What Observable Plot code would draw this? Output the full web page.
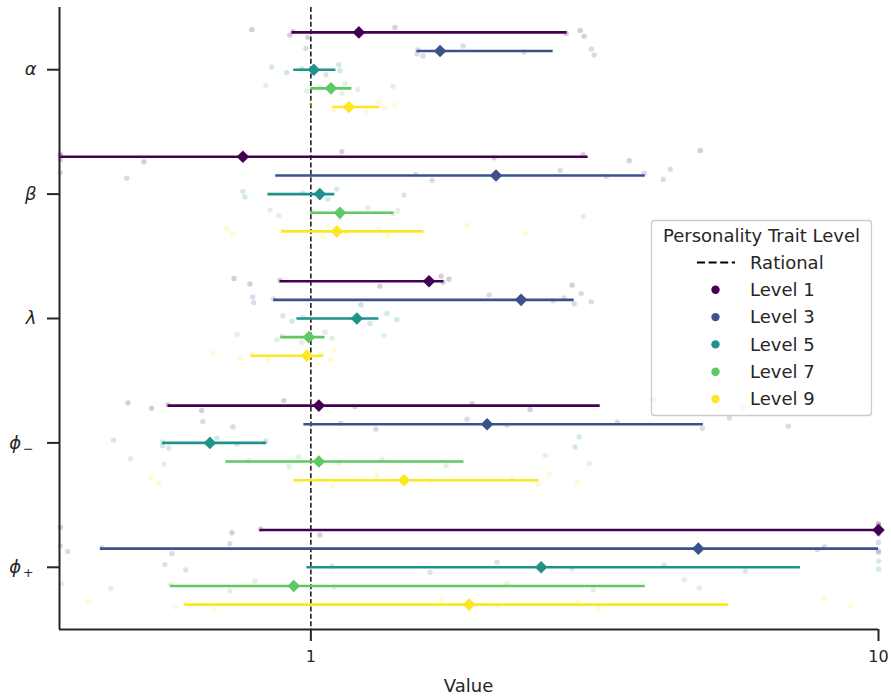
<!DOCTYPE html>
<html>
<head>
<meta charset="utf-8">
<script src="https://cdn.jsdelivr.net/npm/d3@7"></script>
<script src="https://cdn.jsdelivr.net/npm/@observablehq/plot@0.6"></script>
<style>
  html, body { margin: 0; padding: 0; background: #ffffff; }
  #chart { position: relative; width: 891px; height: 698px; }
  #chart svg { font-family: "DejaVu Sans", sans-serif; }
</style>
</head>
<body>
<div id="chart"></div>
<script>
// ---------------- data ----------------
const paramLabels = ["α", "β", "λ", "ϕ−", "ϕ+"];
const levelNames = ["Level 1", "Level 3", "Level 5", "Level 7", "Level 9"];
const levelColors = ["#440154", "#3b528b", "#21918c", "#5ec962", "#fde725"];
const rationalValue = 1;
const xTicks = [1, 10];

// rows: parameters (α, β, λ, ϕ−, ϕ+); columns: levels 1,3,5,7,9
const medianVals = [
  [1.215, 1.689, 1.012, 1.085, 1.167],
  [0.759, 2.119, 1.037, 1.125, 1.111],
  [1.615, 2.346, 1.205, 0.992, 0.984],
  [1.033, 2.044, 0.664, 1.033, 1.459],
  [10.0, 4.815, 2.545, 0.933, 1.900]
];
const lowVals = [
  [0.926, 1.538, 0.933, 1.000, 1.093],
  [0.300, 0.867, 0.840, 1.000, 0.889],
  [0.882, 0.860, 0.945, 0.885, 0.784],
  [0.560, 0.972, 0.548, 0.708, 0.933],
  [0.813, 0.426, 0.984, 0.566, 0.600]
];
const highVals = [
  [2.828, 2.672, 1.107, 1.181, 1.323],
  [3.080, 3.882, 1.102, 1.401, 1.582],
  [1.716, 2.910, 1.318, 1.059, 1.054],
  [3.234, 4.914, 0.836, 1.861, 2.524],
  [10.0, 10.0, 7.285, 3.882, 5.438]
];

// individual estimates (faint dots)
const alphaSamples = [
  [0.787, 0.918, 0.930, 0.988, 1.406, 2.817, 2.982, 3.031],
  [0.980, 1.538, 1.544, 1.576, 1.854, 2.375, 3.118, 3.156],
  [0.853, 0.907, 0.964, 1.063, 1.120, 1.125],
  [0.833, 0.984, 1.037, 1.134, 1.148, 1.210, 1.395],
  [1.000, 1.098, 1.167, 1.255, 1.318, 1.351, 1.406]
];
const betaSamples = [
  [0.362, 0.362, 0.362, 0.508, 1.134, 2.102, 3.018, 3.638, 4.855],
  [0.362, 0.474, 1.531, 1.635, 2.749, 3.314, 3.867, 4.176, 4.297],
  [0.759, 0.765, 0.968, 1.071, 1.111, 1.459],
  [0.847, 0.878, 1.008, 1.125, 1.260, 1.395, 1.423, 3.018],
  [0.711, 0.729, 0.889, 1.050, 1.076, 1.153, 1.318, 1.367, 1.884, 2.385]
];
const lambdaSamples = [
  [0.732, 0.781, 0.882, 1.323, 1.696, 1.709, 1.751, 2.886],
  [0.790, 0.793, 0.860, 1.225, 2.061, 2.672, 2.794, 2.910, 2.994, 3.118],
  [0.893, 0.926, 0.968, 1.271, 1.361, 1.418],
  [0.741, 0.871, 0.889, 0.964, 1.059, 1.089, 1.345],
  [0.672, 0.750, 0.787, 0.840, 0.984, 1.021, 1.037, 1.085, 1.098]
];
const phiMinusSamples = [
  [0.476, 0.524, 0.560, 0.642, 0.896, 1.196, 1.923, 2.434, 4.010, 5.780],
  [0.645, 0.729, 1.129, 1.302, 1.884, 2.216, 3.465, 4.894, 5.461, 6.939],
  [0.449, 0.548, 0.548, 0.562, 0.683, 0.741, 0.833, 2.922, 2.970],
  [0.481, 0.551, 0.778, 0.915, 0.952, 1.120, 1.334, 1.730, 2.586, 3.093],
  [0.522, 0.540, 1.029, 1.093, 1.307, 1.621, 2.262, 2.514, 2.629, 2.946]
];
const phiPlusSamples = [
  [0.362, 0.726, 0.816, 1.037, 10, 10, 10, 10, 10],
  [0.362, 0.373, 0.428, 0.569, 0.720, 7.806, 8.031, 10, 10, 10],
  [0.553, 0.602, 1.089, 1.621, 2.128, 2.886, 4.193, 5.827, 10, 10],
  [0.364, 0.444, 0.566, 0.720, 0.797, 1.098, 2.216, 3.144, 4.549, 4.835],
  [0.406, 0.578, 0.600, 0.674, 1.696, 2.128, 2.958, 3.208, 7.998, 8.926]
];
const allSamples = [alphaSamples, betaSamples, lambdaSamples, phiMinusSamples, phiPlusSamples];

// ---------------- layout helpers ----------------
const levelStep = 0.15;          // vertical spacing of levels within a parameter band
const jitter = [-0.022, 0.022, -0.008, 0.04, -0.04, 0.008, -0.016, 0.032, -0.05, 0.016, 0.0, 0.05];
const xMin = 0.3607, xMax = 10;

const summaryRows = [];
const pointRows = [];
paramLabels.forEach((p, i) => {
  levelNames.forEach((lv, j) => {
    const yPos = i + (j - 2) * levelStep;
    summaryRows.push({ y: yPos, level: j, med: medianVals[i][j], lo: lowVals[i][j], hi: highVals[i][j] });
    allSamples[i][j].forEach((v, k) => {
      pointRows.push({ y: yPos + jitter[k % jitter.length], level: j, x: v });
    });
  });
});

const diamond = {
  draw(context, size) {
    const h = Math.sqrt(size / Math.PI);
    context.moveTo(0, -h);
    context.lineTo(h, 0);
    context.lineTo(0, h);
    context.lineTo(-h, 0);
    context.closePath();
  }
};

const ink = "#262626";
const W = 891, H = 698;
const mL = 59, mR = 13, mT = 7, mB = 69;

const plot = Plot.plot({
  width: W,
  height: H,
  marginLeft: mL,
  marginRight: mR,
  marginTop: mT,
  marginBottom: mB,
  style: { fontFamily: "DejaVu Sans", background: "white", overflow: "visible" },
  x: { type: "log", domain: [xMin, xMax] },
  y: { domain: [-0.5, 4.5], reverse: true },
  color: { type: "ordinal", domain: [0, 1, 2, 3, 4], range: levelColors },
  marks: [
    Plot.ruleX([rationalValue], { stroke: "black", strokeWidth: 1.4, strokeDasharray: "5,2.4" }),
    Plot.dot(pointRows, { x: "x", y: "y", r: 2.7, fill: "level", fillOpacity: 0.2, stroke: "none" }),
    Plot.ruleY(summaryRows, { y: "y", x1: "lo", x2: "hi", stroke: "level", strokeWidth: 2.6, clip: true }),
    Plot.dot(summaryRows, { x: "med", y: "y", symbol: diamond, r: 6.3, fill: "level", stroke: "none" }),
    Plot.ruleX([xMin], { stroke: ink, strokeWidth: 2 }),
    Plot.ruleY([4.5], { stroke: ink, strokeWidth: 2 }),
    Plot.axisX({ ticks: xTicks, tickFormat: d => String(d), tickSize: 12, tickPadding: 9,
      stroke: ink, strokeWidth: 2, fill: ink, fontSize: 16, label: null }),
    Plot.axisY({ ticks: [0, 1, 2, 3, 4], tickFormat: i => paramLabels[i], tickSize: 12, tickPadding: 11,
      stroke: ink, strokeWidth: 2, fill: ink, fontSize: 18, label: null })
  ]
});

document.getElementById("chart").appendChild(plot);

const svg = d3.select(plot);

// subscripts on the ϕ labels, italic Greek
svg.selectAll('[aria-label="y-axis tick label"] text').each(function () {
  const t = d3.select(this);
  const s = this.textContent;
  t.text(null);
  if (s.length > 1) {
    t.attr("dx", -3);
    t.append("tspan").attr("font-style", "italic").text(s[0]);
    t.append("tspan").attr("font-size", "0.7em").attr("dy", "0.32em").attr("dx", "0.15em").text(s.slice(1));
  } else {
    t.append("tspan").attr("font-style", "italic").text(s);
  }
});

// x-axis title
svg.append("text")
  .attr("x", (mL + (W - mR)) / 2)
  .attr("y", 692)
  .attr("text-anchor", "middle")
  .attr("fill", ink)
  .attr("font-size", 18)
  .attr("font-family", "DejaVu Sans")
  .text("Value");

// legend
const lg = svg.append("g").attr("font-family", "DejaVu Sans").attr("font-size", 18).attr("fill", ink)
  .attr("text-anchor", "start");
lg.append("rect")
  .attr("x", 651.5).attr("y", 220.5).attr("width", 220).attr("height", 195)
  .attr("rx", 3).attr("fill", "white").attr("fill-opacity", 0.8)
  .attr("stroke", "#cccccc").attr("stroke-width", 1.3);
lg.append("text").attr("x", 761.5).attr("y", 242).attr("text-anchor", "middle").text("Personality Trait Level");
const rowY0 = 262.5, rowStep = 27.3;
lg.append("line").attr("x1", 697).attr("x2", 735).attr("y1", rowY0).attr("y2", rowY0)
  .attr("stroke", "black").attr("stroke-width", 2.2).attr("stroke-dasharray", "8,3.6");
lg.append("text").attr("x", 750).attr("y", rowY0).attr("dy", "0.35em").text("Rational");
levelNames.forEach((name, i) => {
  const yy = rowY0 + rowStep * (i + 1);
  lg.append("circle").attr("cx", 715.5).attr("cy", yy).attr("r", 4.2).attr("fill", levelColors[i]);
  lg.append("text").attr("x", 750).attr("y", yy).attr("dy", "0.35em").text(name);
});
</script>
</body>
</html>
